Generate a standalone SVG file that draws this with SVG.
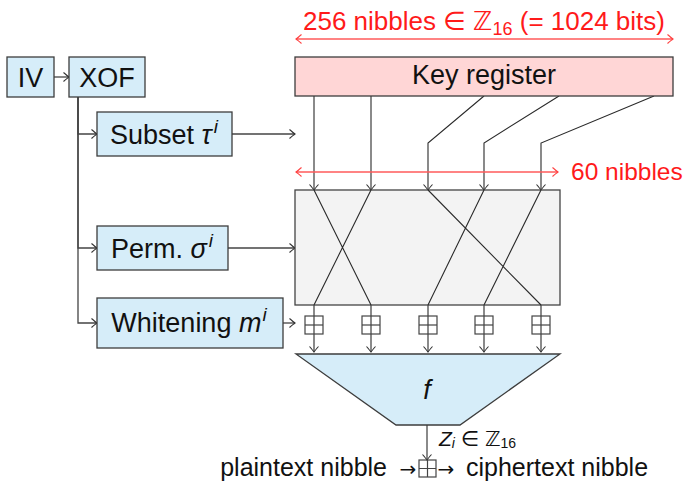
<svg xmlns="http://www.w3.org/2000/svg" width="684" height="483" viewBox="0 0 684 483">
<defs>
<marker id="ah" viewBox="-7 -6 8 12" refX="0" refY="0" markerWidth="8" markerHeight="12" markerUnits="userSpaceOnUse" orient="auto">
<path d="M-5.5,-4.5 Q-1.5,-1 0,0 Q-1.5,1 -5.5,4.5" fill="none" stroke="#333" stroke-width="1.1"/>
</marker>
<marker id="ahr" viewBox="-7 -6 8 12" refX="0" refY="0" markerWidth="8" markerHeight="12" markerUnits="userSpaceOnUse" orient="auto-start-reverse">
<path d="M-5.5,-4.5 Q-1.5,-1 0,0 Q-1.5,1 -5.5,4.5" fill="none" stroke="#ff4040" stroke-width="1.1"/>
</marker>
</defs>
<style>
.box{fill:#d6edf9;stroke:#3d3d3d;stroke-width:1.3}
.t{font-family:"Liberation Sans","DejaVu Sans",sans-serif;fill:#111}
.m{font-style:italic}
.w{fill:none;stroke:#2a2a2a;stroke-width:1.1}
.c{fill:none;stroke:#444;stroke-width:1.3;marker-end:url(#ah)}
.wa{fill:none;stroke:#2a2a2a;stroke-width:1.1;marker-end:url(#ah)}
.red{fill:none;stroke:#ff5a5a;stroke-width:1.3;marker-start:url(#ahr);marker-end:url(#ahr)}
.rt{font-family:"Liberation Sans","DejaVu Sans",sans-serif;fill:#ff1a1a}
.bp{fill:none;stroke:#444;stroke-width:1.2}
.ar{font-family:"DejaVu Sans",sans-serif;fill:#111}
</style>
<rect width="684" height="483" fill="#fff"/>

<g id="connectors">
<path class="c" d="M54,77 H69"/>
<path class="c" d="M78,97 V134 H97"/>
<path class="c" d="M78,97 V248 H97"/>
<path class="c" d="M78,97 V323 H97"/>
<path class="c" d="M232,134 H295"/>
<path class="c" d="M228,248 H295"/>
<path class="c" d="M283,323 H295"/>
<path class="wa" d="M314,96 V190"/>
<path class="wa" d="M371,96 V190"/>
<path class="wa" d="M484,96 L428,143 V190"/>
<path class="wa" d="M559,96 L484,143 V190"/>
<path class="wa" d="M654,96 L541,143 V190"/>
<path class="wa" d="M314,305 V352"/>
<path class="wa" d="M371,305 V352"/>
<path class="wa" d="M428,305 V352"/>
<path class="wa" d="M484,305 V352"/>
<path class="wa" d="M541,305 V352"/>
<path class="wa" d="M427,425 V460"/>
<path class="red" d="M296,39 H673"/>
<path class="red" d="M296,172 H558"/>
</g>

<g id="iv"><rect class="box" x="7" y="57" width="47" height="40"/><text class="t" x="30.5" y="86.5" font-size="27" text-anchor="middle">IV</text></g>
<g id="xof"><rect class="box" x="69" y="57" width="76" height="40"/><text class="t" x="107" y="86.5" font-size="27" text-anchor="middle">XOF</text></g>
<g id="keyreg"><rect x="295" y="57" width="378" height="39" fill="#ffd6d6" stroke="#3d3d3d" stroke-width="1.3"/><text class="t" x="484" y="84" font-size="27" text-anchor="middle">Key register</text></g>
<g id="subset"><rect class="box" x="97" y="112" width="135" height="44"/><text class="t" x="164" y="144" font-size="27" text-anchor="middle">Subset <tspan class="m">τ</tspan><tspan class="m" font-size="19" dx="2" dy="-11">i</tspan></text></g>
<g id="perm"><rect class="box" x="97" y="226" width="131" height="44"/><text class="t" x="162" y="258" font-size="27" text-anchor="middle">Perm. <tspan class="m">σ</tspan><tspan class="m" font-size="19" dx="2" dy="-11">i</tspan></text></g>
<g id="whitening"><rect class="box" x="97" y="298" width="186" height="50"/><text class="t" x="189" y="332" font-size="27" text-anchor="middle">Whitening <tspan class="m">m</tspan><tspan class="m" font-size="19" dx="1" dy="-11">i</tspan></text></g>

<g id="permbox">
<rect x="295" y="190" width="265" height="115" fill="#f3f3f3" stroke="#444" stroke-width="1.3"/>
<path class="w" d="M314,190 L371,305 M371,190 L314,305 M428,190 L541,305 M484,190 L428,305 M541,190 L484,305"/>
</g>

<g id="whiten-adds">
<g class="bp"><rect x="305" y="316" width="18" height="18"/><path d="M305,325 H323"/></g>
<g class="bp"><rect x="362" y="316" width="18" height="18"/><path d="M362,325 H380"/></g>
<g class="bp"><rect x="419" y="316" width="18" height="18"/><path d="M419,325 H437"/></g>
<g class="bp"><rect x="475" y="316" width="18" height="18"/><path d="M475,325 H493"/></g>
<g class="bp"><rect x="532" y="316" width="18" height="18"/><path d="M532,325 H550"/></g>
</g>

<g id="f">
<polygon points="296,354 560,354 460,425 396,425" fill="#d6edf9" stroke="#3d3d3d" stroke-width="1.3"/>
<text class="t m" x="427" y="399" font-size="27" text-anchor="middle">f</text>
</g>

<g id="output">
<g class="bp"><rect x="419" y="460" width="17" height="17"/><path d="M427.5,460 V477 M419,468.5 H436"/></g>
<text class="t" x="439" y="446" font-size="21"><tspan class="m">Z</tspan><tspan class="m" font-size="14" dy="2">i</tspan><tspan dy="-2"> ∈ ℤ</tspan><tspan font-size="14" dy="2">16</tspan></text>
<text class="t" x="387" y="476" font-size="25" text-anchor="end">plaintext nibble</text>
<text class="ar" x="408" y="476" font-size="20" text-anchor="middle">→</text>
<text class="ar" x="446" y="476" font-size="20" text-anchor="middle">→</text>
<text class="t" x="466" y="476" font-size="25">ciphertext nibble</text>
</g>

<g id="labels">
<text class="rt" x="484" y="30" font-size="26" text-anchor="middle">256 nibbles ∈ ℤ<tspan font-size="18" dy="5">16</tspan><tspan dy="-5"> (= 1024 bits)</tspan></text>
<text class="rt" x="571" y="180" font-size="24.5">60 nibbles</text>
</g>
</svg>
